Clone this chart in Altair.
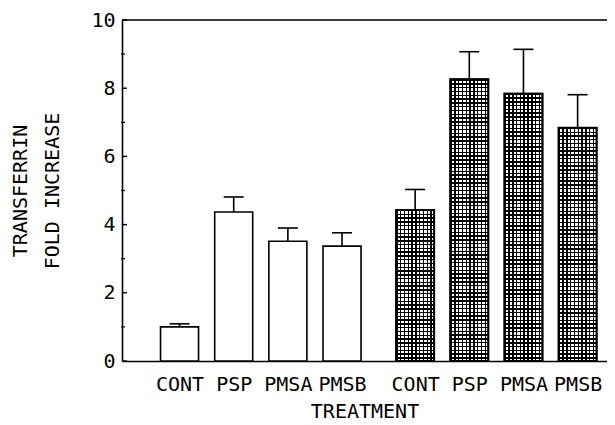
import altair as alt
import pandas as pd

# ---- data ----
treatments = ["CONT", "PSP", "PMSA", "PMSB", "CONT", "PSP", "PMSA", "PMSB"]
groups = ["open", "open", "open", "open", "hatched", "hatched", "hatched", "hatched"]
means = [1.00, 4.37, 3.51, 3.37, 4.43, 8.26, 7.84, 6.84]
upper = [1.09, 4.81, 3.90, 3.76, 5.03, 9.07, 9.14, 7.81]
y_major = [0, 2, 4, 6, 8, 10]
y_minor = [1, 3, 5, 7, 9]

# ---- layout ----
W, H = 485, 341
FONT = "DejaVu Sans Mono"
FS = 20
LEFT_PAD, GROUP_STEP = 0.97, 4.35
BAR = 38

group_index = {"open": 0, "hatched": 1}
pos = []
counter = {"open": 0, "hatched": 0}
for g in groups:
    pos.append(round(LEFT_PAD + counter[g] + group_index[g] * GROUP_STEP, 2))
    counter[g] += 1

df = pd.DataFrame(dict(treatment=treatments, group=groups, mean=means,
                       upper=upper, pos=pos))
df["n_rows"] = (df["mean"] * 9).round().astype(int)

xscale = alt.Scale(domain=[0, 8.77], nice=False, zero=False)
yscale = alt.Scale(domain=[0, 10], nice=False)

label_expr = ("[" + ",".join(f"'{t}'" for t in treatments) + "][indexof(["
              + ",".join(str(p) for p in pos) + "], datum.value)]")

x_axis = alt.Axis(values=pos, labelExpr=label_expr, title="TREATMENT",
                  ticks=False, grid=False, domainColor="black", domainWidth=1.6,
                  labelFont=FONT, labelFontSize=FS, labelColor="black",
                  labelPadding=13, labelFlush=False, labelOverlap=False,
                  titleFont=FONT, titleFontSize=FS, titleFontWeight="normal",
                  titleColor="black", titlePadding=7)
y_axis = alt.Axis(values=y_major, ticks=False, grid=False,
                  title=["TRANSFERRIN", "FOLD INCREASE"],
                  domainColor="black", domainWidth=1.6,
                  labelFont=FONT, labelFontSize=FS, labelColor="black",
                  labelPadding=7, titleFont=FONT, titleFontSize=FS,
                  titleFontWeight="normal", titleColor="black",
                  titlePadding=28, titleLineHeight=32)


def stripes(n, frac, horizontal):
    stops = []
    for i in range(n):
        a = i / n
        b = (i + frac) / n
        c = (i + 1) / n
        stops += [alt.GradientStop(offset=a, color="black"),
                  alt.GradientStop(offset=b, color="black"),
                  alt.GradientStop(offset=b, color="rgba(0,0,0,0)"),
                  alt.GradientStop(offset=c, color="rgba(0,0,0,0)")]
    if horizontal:
        return alt.LinearGradient(gradient="linear", stops=stops, x1=0, y1=0, x2=1, y2=0)
    return alt.LinearGradient(gradient="linear", stops=stops, x1=0, y1=0, x2=0, y2=1)


def X(field):
    return alt.X(field, scale=xscale, axis=x_axis)


def Y(field):
    return alt.Y(field, scale=yscale, axis=y_axis)


base = alt.Chart(df)

bars = base.mark_bar(size=BAR, fill="white", stroke="black", strokeWidth=1.6).encode(
    x=X("pos:Q"), y=Y("mean:Q"))

hatched = base.transform_filter(alt.datum.group == "hatched")
vlines = hatched.mark_bar(size=BAR, fill=stripes(10, 0.38, True)).encode(
    x=X("pos:Q"), y=Y("mean:Q"))

layers = [bars, vlines]
for i, row in df[df.group == "hatched"].iterrows():
    layers.append(
        base.transform_filter(alt.datum.pos == row["pos"]).mark_bar(
            size=BAR, fill=stripes(int(row["n_rows"]), 0.38, False)
        ).encode(x=X("pos:Q"), y=Y("mean:Q"))
    )

outline = hatched.mark_bar(size=BAR, fillOpacity=0, stroke="black",
                           strokeWidth=2).encode(x=X("pos:Q"), y=Y("mean:Q"))
stems = base.mark_rule(color="black", strokeWidth=1.6).encode(
    x=X("pos:Q"), y=Y("mean:Q"), y2="upper:Q")
caps = base.mark_tick(orient="horizontal", size=20, thickness=1.6,
                      color="black", opacity=1).encode(
    x=X("pos:Q"), y=Y("upper:Q"))

tick_major = alt.Chart(pd.DataFrame({"t": y_major})).mark_rule(
    color="black", strokeWidth=1.4).encode(
    y=Y("t:Q"), x=alt.value(0), x2=alt.value(5))
tick_minor = alt.Chart(pd.DataFrame({"t": y_minor})).mark_rule(
    color="black", strokeWidth=1.2).encode(
    y=Y("t:Q"), x=alt.value(-1), x2=alt.value(3))
top_line = alt.Chart(pd.DataFrame({"t": [10]})).mark_rule(
    color="black", strokeWidth=1.6).encode(
    y=Y("t:Q"), x=alt.value(0), x2=alt.value(W))

layers += [outline, stems, caps, tick_major, tick_minor, top_line]

chart = alt.layer(*layers).properties(
    width=W, height=H, autosize="none",
    padding={"left": 114, "top": 12, "right": 0, "bottom": 64},
).configure_view(stroke=None).configure(background="white")

chart.save("out.html", embed_options={"renderer": "svg", "actions": False})
